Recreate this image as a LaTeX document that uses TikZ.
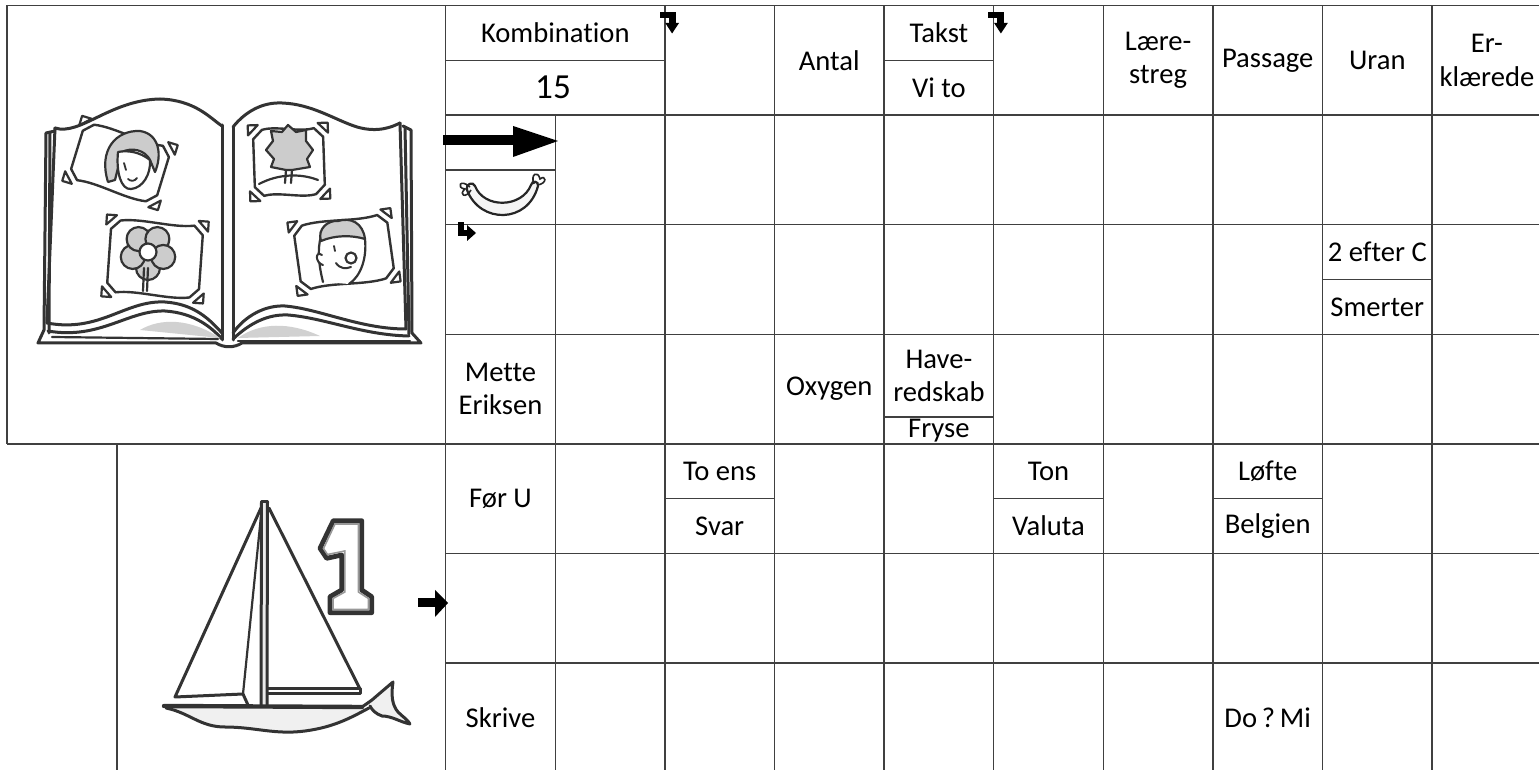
\documentclass[tikz,border=0pt]{standalone}
\usepackage{fontspec}
\setmainfont{Carlito}[Ligatures={NoCommon}]
\newcommand{\photoframe}[5]{%
 \begin{scope}[shift={(#1,#2)}, rotate=#3]
  \draw[ink,line width=1.2pt,fill=white] (-#4+9,-#5) .. controls (-#4/3,-#5-4) and (#4/3,-#5+4) .. (#4-9,-#5) -- (#4,-#5+9) -- (#4,#5-9) -- (#4-9,#5) .. controls (#4/3,#5+4) and (-#4/3,#5-4) .. (-#4+9,#5) -- (-#4,#5-9) -- (-#4,-#5+9) -- cycle;
  \draw[ink,line width=1.1pt] (-#4-5,-#5+5) -- (-#4+5,-#5-5) -- (-#4-5,-#5-5) -- cycle;
  \draw[ink,line width=1.1pt] (#4+5,-#5+5) -- (#4-5,-#5-5) -- (#4+5,-#5-5) -- cycle;
  \draw[ink,line width=1.1pt] (#4+5,#5-5) -- (#4-5,#5+5) -- (#4+5,#5+5) -- cycle;
  \draw[ink,line width=1.1pt] (-#4-5,#5-5) -- (-#4+5,#5+5) -- (-#4-5,#5+5) -- cycle;
 \end{scope}}
\begin{document}
\begin{tikzpicture}[x=0.5pt,y=-0.5pt,
  grid/.style={line width=0.75pt, draw=black!75},
  lbl/.style={inner sep=0pt, font=\fontsize{14.3}{16.7}\selectfont, align=center, text=black},
  ink/.style={line width=1.5pt, draw=black!80, line join=round, line cap=round},
  tipfill/.style={fill=black, draw=none}]
\useasboundingbox (0,0) rectangle (1539,770);
\fill[white] (0,0) rectangle (1539,770);

% ---------- grid ----------
\draw[grid] (7,5.5) -- (1539,5.5);
\draw[grid] (7,443.9) -- (1539,443.9);
\foreach \y in {115.1,224.7,334.3,553.5,663.1}
  \draw[grid] (445.7,\y) -- (1539,\y);
\draw[grid] (7,5.5) -- (7,443.9);
\draw[grid] (117,443.9) -- (117,770);
\draw[grid] (445.7,5.5) -- (445.7,770);
\draw[grid] (555.3,115.1) -- (555.3,770);
\foreach \x in {664.9,774.5,884.1,993.7,1103.3,1212.9,1322.5,1432.1}
  \draw[grid] (\x,5.5) -- (\x,770);
% sub-divisions
\draw[grid] (445.7,60.3) -- (664.9,60.3);
\draw[grid] (884.1,60.3) -- (993.7,60.3);
\draw[grid] (445.7,169.9) -- (555.3,169.9);
\draw[grid] (1322.5,279.5) -- (1432.1,279.5);
\draw[grid] (884.1,417) -- (993.7,417);
\draw[grid] (664.9,498.7) -- (774.5,498.7);
\draw[grid] (993.7,498.7) -- (1103.3,498.7);
\draw[grid] (1212.9,498.7) -- (1322.5,498.7);

% ---------- clue texts ----------
\node[lbl] (kombination) at (555.3,32.9) {Kombination};
\node[lbl, font=\fontsize{17.6}{20}\selectfont] (femten) at (553,87.7) {15};
\node[lbl] (antal) at (829.3,60.3) {Antal};
\node[lbl] (takst) at (938.9,32.9) {Takst};
\node[lbl] (vito) at (938.9,87.7) {Vi to};
\node[lbl] (laere) at (1158.1,60.3) {Lære-\\streg};
\node[lbl] (passage) at (1267.7,60.3) {Passage};
\node[lbl] (uran) at (1377.3,60.3) {Uran};
\node[lbl] (erkl) at (1486.9,60.3) {Er-\\klærede};
\node[lbl] (efter) at (1377.3,252) {2 efter C};
\node[lbl] (smerter) at (1377.3,307) {Smerter};
\node[lbl] (mette) at (500.5,389) {Mette\\Eriksen};
\node[lbl] (oxygen) at (829.3,389) {Oxygen};
\node[lbl] (have) at (938.9,376) {Have-\\redskab};
\node[lbl] (fryse) at (938.9,431) {Fryse};
\node[lbl] (foer) at (500.5,498.7) {Før U};
\node[lbl] (toens) at (719.7,471.3) {To ens};
\node[lbl] (svar) at (719.7,526.1) {Svar};
\node[lbl] (ton) at (1048.5,471.3) {Ton};
\node[lbl] (valuta) at (1048.5,526.1) {Valuta};
\node[lbl] (loefte) at (1267.7,471.3) {Løfte};
\node[lbl] (belgien) at (1267.7,526.1) {Belgien};
\node[lbl] (skrive) at (500.5,717.9) {Skrive};
\node[lbl] (domi) at (1267.7,717.9) {Do\,?\,Mi};

% ---------- direction arrows ----------
\foreach \dx in {0,328.8}{
  \begin{scope}[shift={(\dx,0)}]
  \fill[tipfill] (659.6,12.5) rectangle (675.5,18.5);
  \fill[tipfill] (668.5,12.5) rectangle (675.5,24);
  \fill[tipfill] (665.3,23) -- (679,23) -- (672.1,33.5) -- cycle;
  \end{scope}}
\fill[tipfill] (458,222) rectangle (464,236);
\fill[tipfill] (458,230) rectangle (468,236);
\fill[tipfill] (467,225) -- (476,233) -- (467,241) -- cycle;
\fill[tipfill] (443,135.5) rectangle (514,145.5);
\fill[tipfill] (513,126) -- (558,141) -- (513,157) -- cycle;
\fill[tipfill] (418,598) rectangle (436,607.5);
\fill[tipfill] (435,590) -- (448,603) -- (435,617) -- cycle;

% ---------- sausage ----------
\draw[line width=1.1pt, draw=black!85, fill=black!4]
  (467,190) .. controls (480,224) and (528,224) .. (538,186)
  .. controls (539,181) and (532,180) .. (531,185)
  .. controls (522,208) and (484,209) .. (475,186)
  .. controls (473,181) and (465,184) .. (467,190) -- cycle;
\draw[line width=0.8pt, draw=black!85] (470,187) .. controls (460,178) and (456,188) .. (465,189)
  .. controls (458,195) and (466,199) .. (471,190);
\draw[line width=0.8pt, draw=black!85] (534,184) .. controls (530,174) and (538,170) .. (540,179)
  .. controls (546,174) and (548,184) .. (537,185);

% ---------- open book ----------
\draw[ink] (55,131) -- (46,133) -- (44,330) -- (38,343) -- (216,343)
  .. controls (224,348) and (234,348) .. (242,343) -- (421,343) -- (412,333) -- (411,130) -- (403,126);
\draw[ink] (50,133) -- (49,333);
\draw[ink] (47,323) .. controls (100,333) and (125,300) .. (165,302) .. controls (195,304) and (210,320) .. (222,333);
\draw[ink] (48,331) .. controls (100,340) and (128,310) .. (165,311) .. controls (195,313) and (212,328) .. (222,339);
\fill[black!18] (140,330) .. controls (160,318) and (190,318) .. (220,338) -- cycle;
\draw[ink, line width=1.1pt] (52,337) -- (218,339);
\draw[ink] (233,333) .. controls (245,316) and (265,305) .. (285,306) .. controls (320,309) and (360,329) .. (406,329);
\draw[ink] (233,339) .. controls (250,323) and (268,314) .. (288,315) .. controls (325,318) and (362,335) .. (409,336);
\fill[black!18] (238,338) .. controls (260,322) and (290,322) .. (320,336) -- cycle;
\draw[ink, line width=1.1pt] (238,341) -- (410,341);
\draw[ink] (55,128) .. controls (80,136) and (110,100) .. (160,99) .. controls (195,100) and (210,118) .. (222,126);
\draw[ink] (55,128) -- (47,323);
\draw[ink] (233,127) .. controls (245,112) and (262,102) .. (282,103) .. controls (312,104) and (335,120) .. (357,127) .. controls (378,133) and (392,127) .. (400,123);
\draw[ink] (400,123) -- (406,329);
\draw[ink] (405,127) -- (409,334);
\draw[ink] (222,125) -- (222,340);
\draw[ink] (233,127) -- (233,340);
% photos
\photoframe{120}{163}{-17}{45}{29}
\photoframe{155}{259}{-4}{46}{36}
\photoframe{289}{162}{2}{35}{33}
\photoframe{344}{252}{8}{47}{32}
% girl
\draw[ink, line width=1.1pt, fill=black!20] (108,182) .. controls (98,150) and (116,130) .. (140,131)
  .. controls (160,134) and (162,156) .. (155,172) -- (150,160) .. controls (145,150) and (132,147) .. (122,152) -- (115,180) -- cycle;
\draw[ink, line width=1.1pt, fill=white] (118,152) .. controls (116,172) and (121,190) .. (131,189) .. controls (143,188) and (151,174) .. (150,160) .. controls (140,152) and (128,150) .. (118,152) -- cycle;
\draw[ink, line width=0.9pt] (124,163) -- (126,170);
\draw[ink, line width=0.9pt] (128,179) .. controls (131,182) and (135,181) .. (137,178);
% flower
\foreach \a in {90,162,234,306,18}
  \draw[ink, line width=1.1pt, fill=black!20] ([shift={(\a:16)}]148,252) circle (12);
\draw[ink, line width=1.1pt, fill=white] (148,252) circle (8.5);
\draw[ink, line width=1.1pt] (144,268) -- (143,291);
\draw[ink, line width=1.1pt] (148,268) -- (147,291);
% tree
\draw[ink, line width=1.1pt, fill=black!20] (286,170) -- (271,167) -- (274,159) -- (266,150) -- (273,141) -- (271,131) -- (282,132) -- (288,125) -- (296,132) -- (306,130) -- (306,141) -- (313,150) -- (307,159) -- (310,167) -- (292,170) -- cycle;
\draw[ink, line width=1.1pt] (286,170) -- (285,183);
\draw[ink, line width=1.1pt] (292,170) -- (291,183);
\draw[ink, line width=1.1pt] (259,184) .. controls (278,174) and (300,173) .. (318,180);
% boy
\draw[ink, line width=1.1pt, fill=white] (323,282) .. controls (319,266) and (317,250) .. (321,236) .. controls (335,226) and (356,226) .. (365,239) .. controls (367,258) and (361,276) .. (349,284);
\draw[ink, line width=1.1pt, fill=black!20] (321,241) .. controls (317,229) and (328,220) .. (338,221) .. controls (351,217) and (363,223) .. (365,239) .. controls (352,235) and (335,235) .. (321,241) -- cycle;
\draw[ink, line width=1.1pt, fill=white] (351,258) circle (5.5);
\draw[ink, line width=0.9pt] (334,246) -- (335,251);
\draw[ink, line width=1pt] (336,263) .. controls (340,269) and (346,269) .. (351,267);
\draw[ink, line width=1pt, fill=white] (322,255) .. controls (315,250) and (315,263) .. (323,265);

% ---------- sailboat ----------
\fill[black!8] (261.5,502) rectangle (267.5,706);
\draw[ink] (261.5,502) -- (261,706);
\draw[ink] (267.5,502) -- (267,706);
\draw[ink] (261.5,502) -- (267.5,502);
\draw[ink] (261,508) -- (175,697) -- (243,694) -- (248,705);
\draw[ink, line width=1.1pt] (261,516) -- (243,694);
\draw[ink] (269,508) -- (360,689);
\draw[ink] (268,688) -- (360,688) -- (360,693) -- (268,693);
\fill[black!6] (166,708) .. controls (190,713) and (200,727) .. (225,727) .. controls (255,727) and (275,735) .. (305,731) .. controls (335,727) and (352,717) .. (369,708) -- cycle;
\draw[ink] (166,708) .. controls (190,713) and (200,727) .. (225,727) .. controls (255,727) and (275,735) .. (305,731) .. controls (335,727) and (352,717) .. (369,708);
\draw[ink, line width=2.2pt] (164,706) -- (362,707);
\draw[ink, fill=black!6] (362,707) -- (372,700) .. controls (380,693) and (386,688) .. (393,682) .. controls (391,695) and (392,705) .. (398,712) .. controls (403,717) and (408,720) .. (410,724) .. controls (400,722) and (392,716) .. (382,716) .. controls (376,714) and (372,710) .. (370,706);
% digit one, outlined
\draw[ink, line width=2.4pt, fill=white] (333.3,520.7) -- (361.7,520.7) -- (361.7,590) -- (371.7,596.7) -- (371.7,612.7) -- (330,612.7) -- (330,596.7) -- (341.7,590) -- (341.7,555) -- (326.7,558.3) -- (320,548.3) -- cycle;
\draw[black!40, line width=0.8pt] (335,524) -- (358.5,524) -- (358.5,592) -- (368.5,598.5) -- (368.5,609.5) -- (333,609.5) -- (333,598.5) -- (344.8,592) -- (344.8,551) -- (327.5,554.5) -- (323.5,548.5) -- cycle;
\end{tikzpicture}
\end{document}
